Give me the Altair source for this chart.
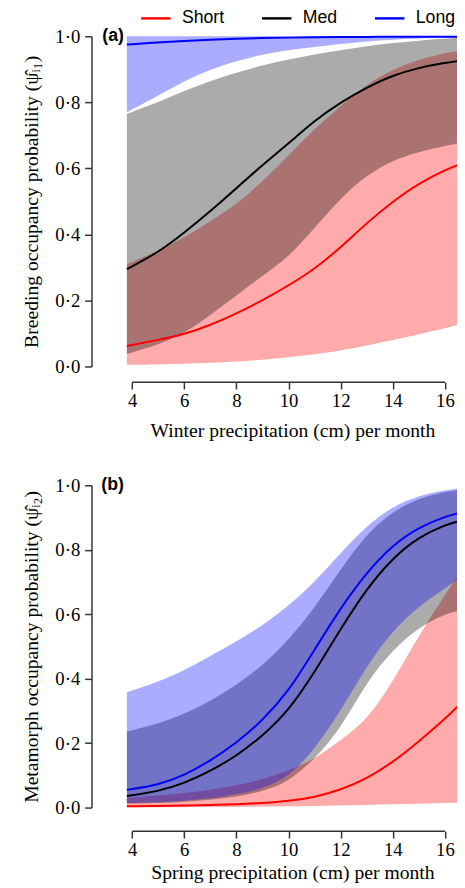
import altair as alt
import pandas as pd

X = [3.8, 5, 6, 7, 8, 9, 10, 11, 12, 13, 14, 15, 16, 16.5]
GROUPS = ["Short", "Med", "Long"]
COLORS = ["#FF0000", "#000000", "#0000FF"]

# Panel (a): breeding occupancy vs winter precipitation
A_SHORT_MEAN = [0.062, 0.08, 0.097, 0.125, 0.16, 0.2, 0.245, 0.295, 0.36, 0.435, 0.5, 0.555, 0.595, 0.61]
A_SHORT_LO = [0.005, 0.006, 0.008, 0.011, 0.015, 0.02, 0.028, 0.036, 0.048, 0.063, 0.08, 0.098, 0.115, 0.127]
A_SHORT_HI = [0.31, 0.35, 0.39, 0.44, 0.49, 0.56, 0.64, 0.72, 0.79, 0.855, 0.9, 0.93, 0.95, 0.955]
A_MED_MEAN = [0.295, 0.345, 0.405, 0.47, 0.54, 0.61, 0.675, 0.745, 0.80, 0.845, 0.882, 0.905, 0.92, 0.925]
A_MED_LO = [0.038, 0.065, 0.10, 0.155, 0.215, 0.275, 0.33, 0.42, 0.51, 0.58, 0.625, 0.65, 0.668, 0.676]
A_MED_HI = [0.765, 0.80, 0.835, 0.865, 0.89, 0.912, 0.93, 0.945, 0.958, 0.97, 0.98, 0.987, 0.993, 0.995]
A_LONG_MEAN = [0.975, 0.982, 0.986, 0.99, 0.993, 0.995, 0.996, 0.997, 0.998, 0.998, 0.999, 0.999, 0.999, 0.999]
A_LONG_LO = [0.77, 0.82, 0.865, 0.9, 0.925, 0.945, 0.958, 0.968, 0.977, 0.985, 0.99, 0.994, 0.996, 0.997]
A_LONG_HI = [1.0, 1.0, 1.0, 1.0, 1.0, 1.0, 1.0, 1.0, 1.0, 1.0, 1.0, 1.0, 1.0, 1.0]

# Panel (b): metamorph occupancy vs spring precipitation
B_SHORT_MEAN = [0.004, 0.005, 0.006, 0.008, 0.01, 0.014, 0.02, 0.032, 0.055, 0.09, 0.14, 0.205, 0.275, 0.315]
B_SHORT_LO = [0.001, 0.001, 0.001, 0.002, 0.002, 0.003, 0.004, 0.005, 0.006, 0.008, 0.01, 0.012, 0.014, 0.015]
B_SHORT_HI = [0.03, 0.037, 0.045, 0.055, 0.068, 0.087, 0.115, 0.15, 0.21, 0.27, 0.39, 0.535, 0.66, 0.72]
B_MED_MEAN = [0.036, 0.05, 0.075, 0.113, 0.16, 0.222, 0.30, 0.42, 0.555, 0.68, 0.775, 0.84, 0.877, 0.888]
B_MED_LO = [0.012, 0.014, 0.018, 0.024, 0.033, 0.05, 0.08, 0.15, 0.245, 0.39, 0.49, 0.56, 0.60, 0.61]
B_MED_HI = [0.236, 0.26, 0.29, 0.33, 0.38, 0.44, 0.52, 0.62, 0.74, 0.85, 0.92, 0.96, 0.98, 0.985]
B_LONG_MEAN = [0.055, 0.07, 0.10, 0.145, 0.20, 0.27, 0.36, 0.49, 0.62, 0.73, 0.815, 0.87, 0.903, 0.913]
B_LONG_LO = [0.014, 0.016, 0.021, 0.028, 0.04, 0.058, 0.095, 0.18, 0.30, 0.44, 0.55, 0.625, 0.68, 0.71]
B_LONG_HI = [0.358, 0.39, 0.425, 0.47, 0.515, 0.565, 0.625, 0.70, 0.79, 0.875, 0.935, 0.968, 0.985, 0.99]

Y_TICKS = [0.0, 0.2, 0.4, 0.6, 0.8, 1.0]
X_TICKS = [4, 6, 8, 10, 12, 14, 16]

SERIF = "Liberation Serif"
SANS = "Liberation Sans"
AXIS_COL = "#333333"
INTERP = "basis"


def build_df(series):
    rows = []
    for g, (m, lo, hi) in series.items():
        for xi, mi, l, h in zip(X, m, lo, hi):
            rows.append({"x": xi, "group": g, "mean": mi, "lo": l, "hi": h})
    return pd.DataFrame(rows)


def panel(df, tag, ytitle, xtitle, height, x_offset, x_title_pad):
    xs = alt.Scale(domain=[3.8, 16.5], nice=False, zero=False)
    ys = alt.Scale(domain=[0, 1], nice=False, zero=False)
    xaxis = alt.Axis(values=X_TICKS, domain=False, grid=False, tickSize=7,
                     tickColor=AXIS_COL, tickWidth=1.5, offset=x_offset,
                     labelFont=SERIF, labelFontSize=19, labelColor="black",
                     labelPadding=3, labelFlush=False, format="d",
                     title=xtitle, titleFont=SERIF, titleFontSize=20,
                     titleFontWeight="normal", titleColor="black", titlePadding=x_title_pad)
    yaxis = alt.Axis(values=Y_TICKS, grid=False, tickSize=7, tickColor=AXIS_COL,
                     tickWidth=1.5, domainColor=AXIS_COL, domainWidth=1.5, offset=36,
                     labelExpr="replace(format(datum.value, '.1f'), '.', '·')",
                     labelFont=SERIF, labelFontSize=19, labelColor="black",
                     labelPadding=5, labelFlush=False,
                     title=ytitle, titleFont=SERIF, titleFontSize=20,
                     titleFontWeight="normal", titleColor="black", titlePadding=14)
    xenc = alt.X("x:Q", scale=xs, axis=xaxis)
    base = alt.Chart(df)
    layers = []
    for g, c in zip(GROUPS, COLORS):
        layers.append(
            base.transform_filter(alt.datum.group == g)
            .mark_area(color=c, opacity=0.33, interpolate=INTERP)
            .encode(x=xenc, y=alt.Y("lo:Q", scale=ys, axis=yaxis), y2="hi:Q")
        )
    for g in GROUPS:
        layers.append(
            base.transform_filter(alt.datum.group == g)
            .mark_line(strokeWidth=2, interpolate=INTERP)
            .encode(
                x=xenc,
                y=alt.Y("mean:Q", scale=ys, axis=yaxis),
                stroke=alt.Stroke("group:N", scale=alt.Scale(domain=GROUPS, range=COLORS),
                                  legend=alt.Legend(title=None)),
            )
        )
    axis_line = alt.Chart(pd.DataFrame({"x": [X_TICKS[0]], "x_end": [X_TICKS[-1]]})).mark_rule(
        color=AXIS_COL, strokeWidth=1.5
    ).encode(x=xenc, x2="x_end:Q", y=alt.value(height + x_offset))
    label = alt.Chart(pd.DataFrame({"x": [3.8], "y": [1.0], "t": [tag]})).mark_text(
        align="right", baseline="middle", dx=-3, font=SANS, fontSize=18, fontWeight="bold", color="black"
    ).encode(x=xenc, y=alt.Y("y:Q", scale=ys, axis=yaxis), text="t:N")
    return alt.layer(*layers, axis_line, label).properties(width=337, height=height)


df_a = build_df({
    "Short": (A_SHORT_MEAN, A_SHORT_LO, A_SHORT_HI),
    "Med": (A_MED_MEAN, A_MED_LO, A_MED_HI),
    "Long": (A_LONG_MEAN, A_LONG_LO, A_LONG_HI),
})
df_b = build_df({
    "Short": (B_SHORT_MEAN, B_SHORT_LO, B_SHORT_HI),
    "Med": (B_MED_MEAN, B_MED_LO, B_MED_HI),
    "Long": (B_LONG_MEAN, B_LONG_LO, B_LONG_HI),
})

pa = panel(df_a, "(a)", "Breeding occupancy probability (ψ̂ᵢ₁)",
           "Winter precipitation (cm) per month", 336, 16, 10)
pb = panel(df_b, "(b)", "Metamorph occupancy probability (ψ̂ᵢ₂)",
           "Spring precipitation (cm) per month", 328, 24, 3)

chart = (
    alt.vconcat(pa, pb, spacing=37)
    .properties(padding={"left": 13, "top": -14, "right": -5, "bottom": -4})
    .configure_view(stroke=None)
    .configure_legend(
        orient="none", legendX=13, legendY=-35, direction="horizontal",
        symbolType="stroke", symbolSize=900, symbolStrokeWidth=2.5,
        labelFont=SANS, labelFontSize=18, labelColor="black", labelOffset=10,
        columnPadding=32,
    )
)

chart.save("out.html", embed_options={"renderer": "svg", "actions": False})
